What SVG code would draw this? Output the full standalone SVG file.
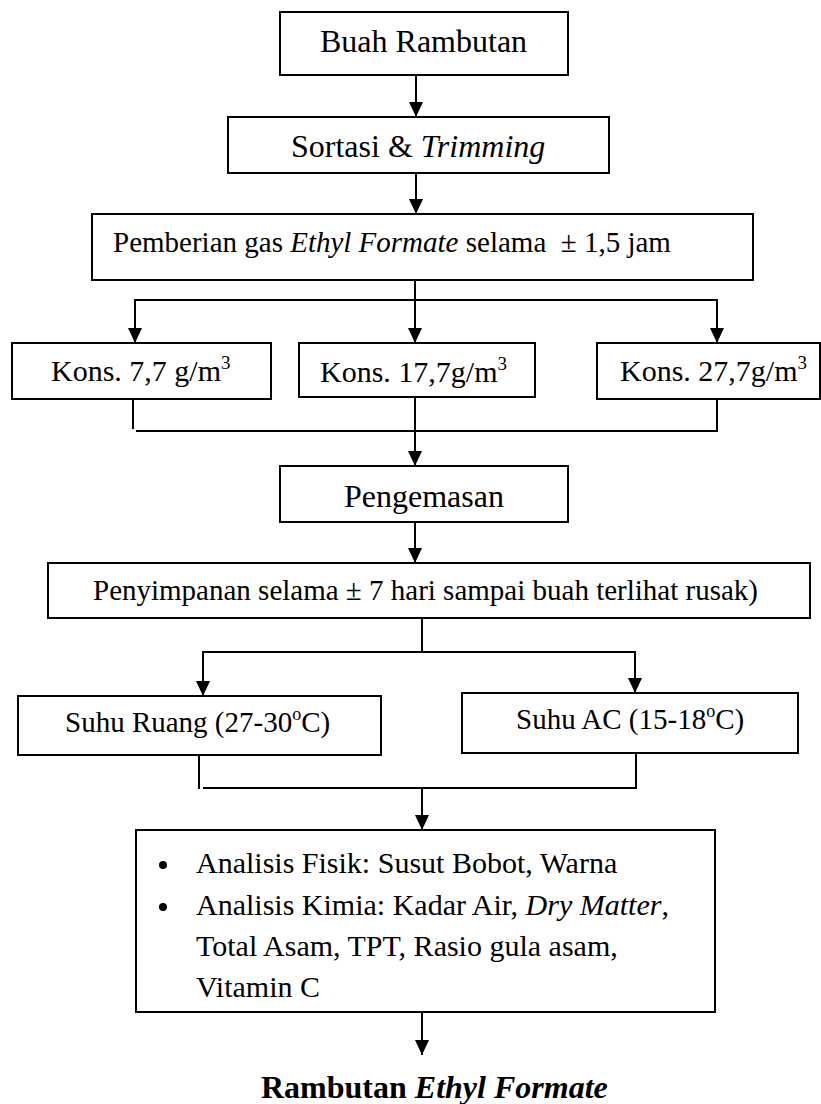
<svg xmlns="http://www.w3.org/2000/svg" width="821" height="1104" viewBox="0 0 821 1104">
<style>
.box{fill:#fff;stroke:#000;stroke-width:2}
.ln{fill:none;stroke:#000;stroke-width:2}
.t{font-family:"Liberation Serif","Times New Roman",serif;fill:#000}
.i{font-style:italic}
</style>
<defs>
<marker id="ah" markerUnits="userSpaceOnUse" markerWidth="15" markerHeight="14" refX="15" refY="7" orient="auto" viewBox="0 0 15 14">
<path d="M0,0 L15,7 L0,14 z" fill="#000"/>
</marker>
</defs>
<rect width="821" height="1104" fill="#fff"/>
<g id="connectors">
<line class="ln" x1="416" y1="75" x2="416" y2="117" marker-end="url(#ah)"/>
<line class="ln" x1="416" y1="173" x2="416" y2="214" marker-end="url(#ah)"/>
<polyline class="ln" points="415,280 415,300"/>
<line class="ln" x1="134" y1="300" x2="718" y2="300"/>
<line class="ln" x1="135" y1="300" x2="135" y2="343" marker-end="url(#ah)"/>
<line class="ln" x1="415" y1="300" x2="415" y2="343" marker-end="url(#ah)"/>
<line class="ln" x1="717" y1="300" x2="717" y2="343" marker-end="url(#ah)"/>
<line class="ln" x1="133" y1="396" x2="133" y2="429"/>
<line class="ln" x1="717" y1="399" x2="717" y2="432"/>
<line class="ln" x1="136" y1="431" x2="718" y2="431"/>
<line class="ln" x1="415" y1="397" x2="415" y2="466" marker-end="url(#ah)"/>
<line class="ln" x1="415" y1="522" x2="415" y2="563" marker-end="url(#ah)"/>
<line class="ln" x1="422" y1="618" x2="422" y2="652"/>
<line class="ln" x1="202" y1="652" x2="636" y2="652"/>
<line class="ln" x1="203" y1="652" x2="203" y2="696" marker-end="url(#ah)"/>
<line class="ln" x1="635" y1="652" x2="635" y2="693" marker-end="url(#ah)"/>
<line class="ln" x1="199" y1="755" x2="199" y2="789"/>
<line class="ln" x1="636" y1="753" x2="636" y2="789"/>
<line class="ln" x1="203" y1="788" x2="636" y2="788"/>
<line class="ln" x1="422" y1="788" x2="422" y2="830" marker-end="url(#ah)"/>
<line class="ln" x1="422" y1="1012" x2="422" y2="1055" marker-end="url(#ah)"/>
</g>
<g id="n1">
<rect class="box" x="280" y="12" width="288" height="63"/>
<text class="t" x="320" y="52" font-size="32">Buah Rambutan</text>
</g>
<g id="n2">
<rect class="box" x="228" y="117" width="381" height="56"/>
<text class="t" x="291" y="157" font-size="32">Sortasi &amp; <tspan class="i">Trimming</tspan></text>
</g>
<g id="n3">
<rect class="box" x="92" y="214" width="661" height="66"/>
<text class="t" x="113" y="252" font-size="29" xml:space="preserve">Pemberian gas <tspan class="i">Ethyl Formate</tspan> selama  ± 1,5 jam</text>
</g>
<g id="n4">
<rect class="box" x="12" y="343" width="259" height="56"/>
<text class="t" x="51" y="381" font-size="30">Kons. 7,7 g/m<tspan font-size="19" dy="-12">3</tspan></text>
</g>
<g id="n5">
<rect class="box" x="299" y="343" width="236" height="54"/>
<text class="t" x="320" y="382" font-size="30">Kons. 17,7g/m<tspan font-size="19" dy="-12">3</tspan></text>
</g>
<g id="n6">
<rect class="box" x="597" y="343" width="223" height="56"/>
<text class="t" x="620" y="381" font-size="30">Kons. 27,7g/m<tspan font-size="19" dy="-12">3</tspan></text>
</g>
<g id="n7">
<rect class="box" x="280" y="466" width="288" height="56"/>
<text class="t" x="344" y="507" font-size="32">Pengemasan</text>
</g>
<g id="n8">
<rect class="box" x="48" y="563" width="762" height="55"/>
<text class="t" x="93" y="600" font-size="29">Penyimpanan selama ± 7 hari sampai buah terlihat rusak)</text>
</g>
<g id="n9">
<rect class="box" x="18" y="696" width="363" height="59"/>
<text class="t" x="65" y="732" font-size="29">Suhu Ruang (27-30<tspan font-size="18" dy="-12">o</tspan><tspan dy="12">C)</tspan></text>
</g>
<g id="n10">
<rect class="box" x="462" y="693" width="336" height="60"/>
<text class="t" x="516" y="729" font-size="29">Suhu AC (15-18<tspan font-size="18" dy="-12">o</tspan><tspan dy="12">C)</tspan></text>
</g>
<g id="n11">
<rect class="box" x="136" y="830" width="579" height="182"/>
<circle cx="163" cy="865" r="4"/>
<circle cx="163" cy="907" r="4"/>
<text class="t" font-size="30">
<tspan x="196" y="873">Analisis Fisik: Susut Bobot, Warna</tspan>
<tspan x="196" y="915">Analisis Kimia: Kadar Air, <tspan class="i">Dry Matter</tspan>,</tspan>
<tspan x="196" y="956">Total Asam, TPT, Rasio gula asam,</tspan>
<tspan x="196" y="997">Vitamin C</tspan>
</text>
</g>
<g id="n12">
<text class="t" x="261" y="1098" font-size="32" font-weight="bold">Rambutan <tspan class="i">Ethyl Formate</tspan></text>
</g>
</svg>
